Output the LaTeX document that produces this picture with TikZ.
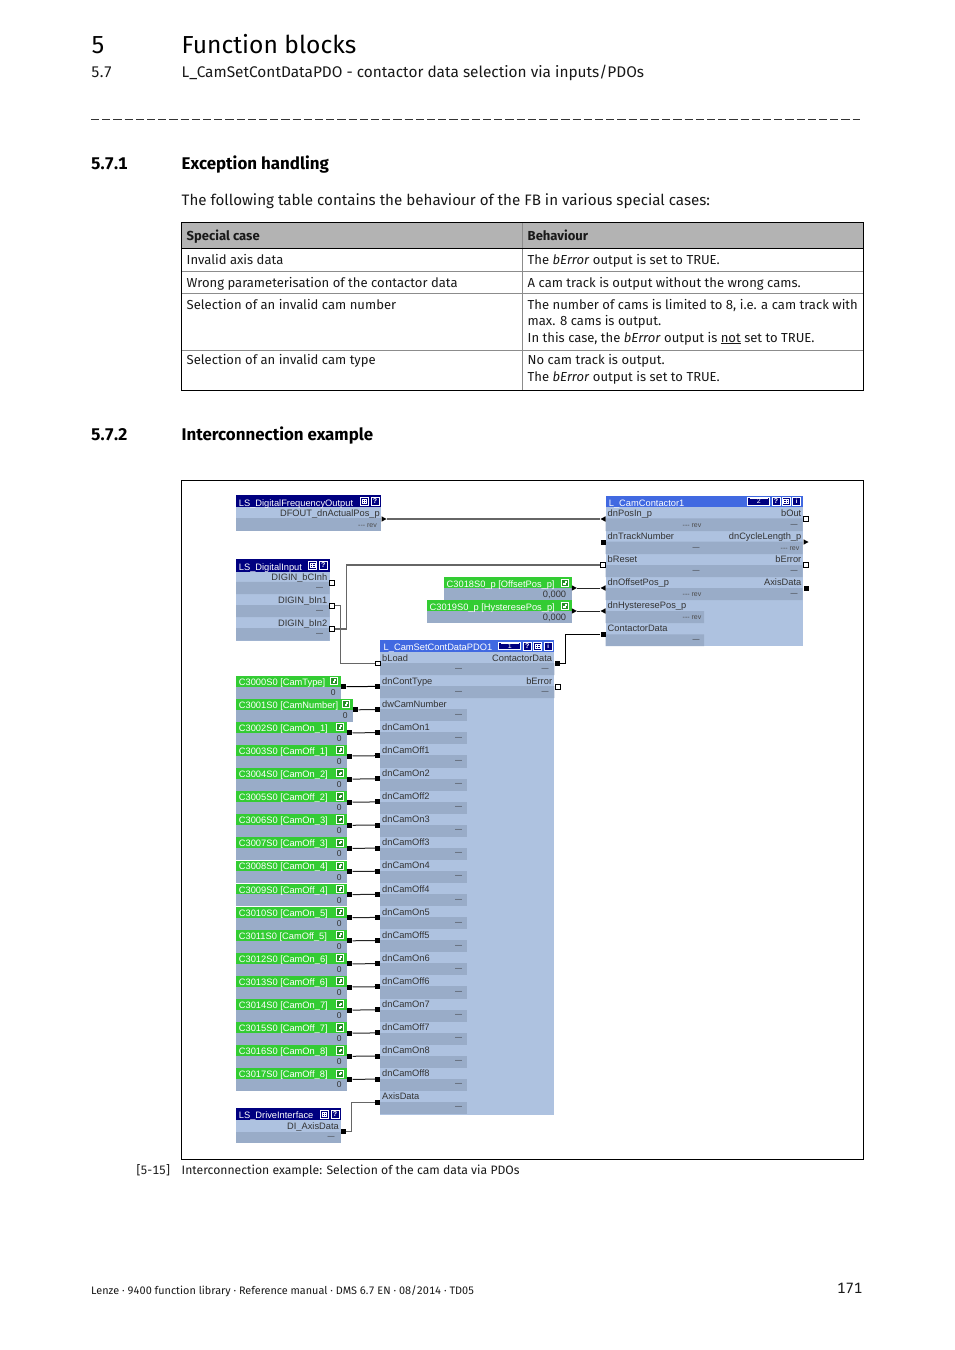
\documentclass[tikz,border=0pt]{standalone}
\usepackage{fontspec}
\setmainfont[Numbers=Monospaced]{Fira Sans}
\newfontfamily\dia{Liberation Sans}
\definecolor{lightrow}{HTML}{AEC2E0}
\definecolor{darkrow}{HTML}{99ACC8}
\definecolor{navyhead}{HTML}{000080}
\definecolor{bluehead}{HTML}{4169E1}
\definecolor{greenhead}{HTML}{33CC33}
\definecolor{tablehead}{HTML}{B3B3B3}
\newcommand\fs[1]{\fontsize{#1}{#1}\selectfont}
\tikzset{
  x=1pt,y=-1pt,
  lft/.style={anchor=base west,inner sep=0pt},
  rgt/.style={anchor=base east,inner sep=0pt},
  doc/.style={lft,font=\fs{13.05},text=black!90},
  docsec/.style={lft,font=\fs{16.9}\bfseries,text=black},
  dl/.style={lft,font=\dia\fs{9.3},text=black!80},
  dr/.style={rgt,font=\dia\fs{9.3},text=black!80},
  hd/.style={lft,font=\dia\fs{9.3},text=white},
  dsh/.style={anchor=center,inner sep=0pt,font=\dia\fs{7},text=black!80},
  rev/.style={anchor=center,inner sep=0pt,font=\dia\fs{7},text=black!70},
  wport/.style={draw=black,fill=white,line width=.8pt,minimum size=4.4pt,inner sep=0pt},
  bport/.style={fill=black,minimum size=5pt,inner sep=0pt},
  tport/.style={minimum size=5pt,inner sep=0pt},
  wthin/.style={draw=black!85,line width=1pt},
  wgrey/.style={draw=black!60,line width=1.2pt},
  wthick/.style={draw=black!60,line width=1.5pt},
  wblack/.style={draw=black,line width=1pt},
  inner/.style={draw=black!45,line width=.7pt},
  outer/.style={draw=black,line width=1pt},
}
% blocks
\newcommand\body[4]{\fill[lightrow] (#1,#2) rectangle (#3,#4);}
\newcommand\head[5]{\fill[#5] (#1,#2) rectangle (#3,#4);}
% icons
\newcommand\icobox[3]{\draw[white,line width=.8pt,fill=#3] (#1-4,#2-4) rectangle (#1+4,#2+4);}
\newcommand\icoq[2]{\icobox{#1}{#2}{navyhead}\node[anchor=center,inner sep=0pt,text=white,font=\dia\bfseries\fs{7}] at (#1,#2) {?};}
\newcommand\icoi[2]{\icobox{#1}{#2}{navyhead}\node[anchor=center,inner sep=0pt,text=white,font=\dia\bfseries\fs{6}] at (#1,#2) {i};}
\newcommand\icog[2]{\icobox{#1}{#2}{navyhead}\draw[white,line width=.5pt] (#1-2.4,#2-2) rectangle (#1+2.4,#2+2.2) (#1-2.4,#2) -- (#1+2.4,#2) (#1,#2-2) -- (#1,#2+2.2);}
\newcommand\icow[3]{\draw[white,line width=.9pt,fill=navyhead] (#1,#2-3.6) rectangle (#1+22,#2+3.6);\fill[white] (#1+2,#2-3.2) rectangle (#1+20,#2-2.2);\node[anchor=center,inner sep=0pt,text=white,font=\dia\fs{7}] at (#1+11,#2) {#3};}
\newcommand\icogreen[2]{\draw[white,line width=.9pt,fill=greenhead!70!black] (#1-3.6,#2-3.6) rectangle (#1+3.6,#2+3.6);\fill[white] (#1-1.6,#2-.4) rectangle (#1+.6,#2+1.8);\fill[white] (#1-.3,#2-1.8) rectangle (#1+1.8,#2+.3);}
\newcommand\triR[3]{\node[tport] (#1) at (#2,#3) {};\fill (#2-2.5,#3-2.7) -- (#2+2.5,#3) -- (#2-2.5,#3+2.7) -- cycle;}
\newcommand\triL[3]{\node[tport] (#1) at (#2,#3) {};\fill (#2+2.5,#3-2.7) -- (#2-2.5,#3) -- (#2+2.5,#3+2.7) -- cycle;}
\begin{document}
\begin{tikzpicture}
\useasboundingbox (0,0) rectangle (954,1350);
\fill[white] (0,0) rectangle (954,1350);
% page head
\node[lft,font=\fs{24.6},text=black] (chapnum) at (91,53) {5};
\node[lft,font=\fs{24.6},text=black] (chaptitle) at (181.5,53) {Function blocks};
\node[doc,font=\fs{15.4}] (secnum) at (91,77) {5.7};
\node[doc,font=\fs{15.4}] (sectitle) at (181.5,77) {L\_CamSetContDataPDO - contactor data selection via inputs/PDOs};
\draw[black!80,line width=.8pt,dash pattern=on 8.2pt off 3pt] (91,119.5) -- (860,119.5);
\node[docsec] (s1n) at (91,169) {5.7.1};
\node[docsec] (s1t) at (181.5,169) {Exception handling};
\node[doc,font=\fs{15.15}] (intro) at (181.5,205) {The following table contains the behaviour of the FB in various special cases:};
% table
\fill[tablehead] (181.5,222.7) rectangle (863.3,248);
\draw[inner] (181.5,271) -- (863.3,271) (181.5,293.7) -- (863.3,293.7) (181.5,350) -- (863.3,350) (522.5,222.7) -- (522.5,390.3);
\draw[outer] (181.5,222.7) rectangle (863.3,390.3) (181.5,248) -- (863.3,248);
\node[doc,font=\fs{13.05}\bfseries] (th1) at (186.5,240) {Special case};
\node[doc,font=\fs{13.05}\bfseries] (th2) at (527.5,240) {Behaviour};
\node[doc] (c11) at (186.5,264) {Invalid axis data};
\node[doc] (c12) at (527.5,264) {The \textit{bError} output is set to TRUE.};
\node[doc] (c21) at (186.5,287) {Wrong parameterisation of the contactor data};
\node[doc] (c22) at (527.5,287) {A cam track is output without the wrong cams.};
\node[doc] (c31) at (186.5,309.5) {Selection of an invalid cam number};
\node[doc] (c32a) at (527.5,309.5) {The number of cams is limited to 8, i.e. a cam track with};
\node[doc] (c32b) at (527.5,325.5) {max. 8 cams is output.};
\node[doc] (c32c) at (527.5,342) {In this case, the \textit{bError} output is \underline{not} set to TRUE.};
\node[doc] (c41) at (186.5,364.5) {Selection of an invalid cam type};
\node[doc] (c42a) at (527.5,364.5) {No cam track is output.};
\node[doc] (c42b) at (527.5,381) {The \textit{bError} output is set to TRUE.};
\node[docsec] (s2n) at (91,440) {5.7.2};
\node[docsec] (s2t) at (181.5,440) {Interconnection example};
% figure frame
\draw[outer] (181.5,480.5) rectangle (863.5,1159.5);
\node[doc,font=\fs{12.2}] (capn) at (136.5,1174) {[5-15]};
\node[doc,font=\fs{12.2}] (capt) at (181.5,1174) {Interconnection example: Selection of the cam data via PDOs};
% footer
\node[doc,font=\fs{10.85}] (foot) at (91,1294) {Lenze · 9400 function library · Reference manual · DMS 6.7 EN · 08/2014 · TD05};
\node[rgt,font=\fs{15},text=black!90] (pageno) at (862.5,1293.5) {171};

% LS_DigitalFrequencyOutput
\body{236}{507.3}{381}{531}\fill[darkrow] (236,518.3) rectangle (381,531);
\head{236}{495.3}{381}{507.3}{navyhead}
\node[hd] (dfh) at (238.7,506.3) {LS\_DigitalFrequencyOutput};
\icog{364.3}{501.3}\icoq{375}{501.3}
\node[dr] (dfl) at (380,516) {DFOUT\_dnActualPos\_p};
\node[rev] (dfr) at (367.5,525.5) {--- rev};
\triR{dfout}{384}{519}

% LS_DigitalInput
\body{236}{571.5}{329.5}{640.7}
\fill[darkrow] (236,581.8) rectangle (329.5,594) (236,605) rectangle (329.5,617) (236,628.2) rectangle (329.5,640.7);
\head{236}{559.3}{329.5}{571.5}{navyhead}
\node[hd] (dih) at (238.7,570.2) {LS\_DigitalInput};
\icog{312.7}{565.3}\icoq{323.3}{565.3}
\node[dr] (dil1) at (327.5,580) {DIGIN\_bCInh};
\node[dr] (dil2) at (327.5,603) {DIGIN\_bIn1};
\node[dr] (dil3) at (327.5,626) {DIGIN\_bIn2};
\node[dsh] (did1) at (319.5,588.5) {—};
\node[dsh] (did2) at (319.5,611.5) {—};
\node[dsh] (did3) at (319.5,634.5) {—};
\node[wport] (bcinh) at (332,582.7) {};
\node[wport] (bin1) at (332,605.7) {};
\node[wport] (bin2) at (332,629) {};

% L_CamSetContDataPDO1
\body{380}{652}{554.3}{1114.5}
\head{380}{640}{554.3}{652}{bluehead}
\node[hd] (pdoh) at (383.5,650.8) {L\_CamSetContDataPDO1};
\icow{498.7}{646.3}{1}\icoq{527.3}{646.3}\icog{537.5}{646.3}\icoi{548.3}{646.3}
\fill[darkrow] (380,663) rectangle (554.3,675.1) (380,686.1) rectangle (554.3,698.2);
\node[wport] (blpad) at (377.7,663.3) {};
\foreach \r/\nm in {0/bLoad,1/dnContType,2/dwCamNumber,3/dnCamOn1,4/dnCamOff1,5/dnCamOn2,6/dnCamOff2,7/dnCamOn3,8/dnCamOff3,9/dnCamOn4,10/dnCamOff4,11/dnCamOn5,12/dnCamOff5,13/dnCamOn6,14/dnCamOff6,15/dnCamOn7,16/dnCamOff7,17/dnCamOn8,18/dnCamOff8,19/AxisData}{
  \pgfmathsetmacro\ry{652+23.1*\r}
  \ifnum\r>1 \fill[darkrow] (380,\ry+11) rectangle (467,\ry+23.1);\fi
  \node[dl] (pl\r) at (382,\ry+9) {\nm};
  \node[dsh] (pd\r) at (458.5,\ry+17) {—};
  \ifnum\r>0 \node[bport] (pi\r) at (377.7,\ry+11.3) {};\fi
}
\node[dr] (pocd) at (552.3,661) {ContactorData};
\node[dr] (poer) at (552.3,684) {bError};
\node[dsh] (pod1) at (545,669) {—};
\node[dsh] (pod2) at (545,692) {—};
\node[bport] (pcd) at (557.7,663.3) {};
\node[wport] (per) at (557.7,686.7) {};

% L_CamContactor1
\body{605.7}{507.3}{802.7}{646}
\fill[darkrow] (605.7,518.3) rectangle (802.7,531) (605.7,541.5) rectangle (802.7,554) (605.7,565) rectangle (802.7,577) (605.7,588) rectangle (802.7,600) (605.7,611) rectangle (704,623) (605.7,634.3) rectangle (704,646);
\head{605.7}{495.7}{802.7}{507.3}{bluehead}
\node[hd] (cch) at (608.7,506.3) {L\_CamContactor1};
\icow{747.7}{501.5}{2}\icoq{776}{501.5}\icog{786}{501.5}\icoi{796.7}{501.5}
\node[dl] (ccl1) at (607.5,516) {dnPosIn\_p};
\node[dl] (ccl2) at (607.5,539) {dnTrackNumber};
\node[dl] (ccl3) at (607.5,562) {bReset};
\node[dl] (ccl4) at (607.5,585) {dnOffsetPos\_p};
\node[dl] (ccl5) at (607.5,608) {dnHysteresePos\_p};
\node[dl] (ccl6) at (607.5,631) {ContactorData};
\node[dr] (ccr1) at (801.5,516) {bOut};
\node[dr] (ccr2) at (801.5,539) {dnCycleLength\_p};
\node[dr] (ccr3) at (801.5,562) {bError};
\node[dr] (ccr4) at (801.5,585) {AxisData};
\node[rev] (ccv1) at (692,525.5) {--- rev};
\node[dsh] (ccd2) at (696,548) {—};
\node[dsh] (ccd3) at (696,571) {—};
\node[rev] (ccv4) at (692,594.5) {--- rev};
\node[rev] (ccv5) at (692,617.5) {--- rev};
\node[dsh] (ccd6) at (696,640.5) {—};
\node[dsh] (ccr1d) at (794,525) {—};
\node[rev] (ccr2d) at (790,548.5) {--- rev};
\node[dsh] (ccr3d) at (794,571) {—};
\node[dsh] (ccr4d) at (794,594) {—};
\triL{cpos}{603}{519}
\node[bport] (ctrk) at (603,542) {};
\node[wport] (crst) at (603,565) {};
\triL{coff}{603}{588}
\triL{chys}{603}{611}
\node[bport] (ccd) at (603,634.5) {};
\node[wport] (cbout) at (806,519) {};
\triR{ccyc}{806}{542}
\node[wport] (cberr) at (806,565) {};
\node[bport] (caxd) at (806,588) {};

% C3018 / C3019
\fill[darkrow] (443.7,588) rectangle (571.7,599.5);
\head{443.7}{576.7}{571.7}{588}{greenhead}
\node[hd] (g18) at (446.5,587) {C3018S0\_p [OffsetPos\_p]};
\icogreen{565}{583}
\node[dr] (g18v) at (566.3,597) {0,000};
\triR{o18}{574.3}{588}
\fill[darkrow] (426.7,611) rectangle (571.7,623);
\head{426.7}{599.5}{571.7}{611}{greenhead}
\node[hd] (g19) at (429.5,610) {C3019S0\_p [HysteresePos\_p]};
\icogreen{565}{606}
\node[dr] (g19v) at (566.3,620) {0,000};
\triR{o19}{574.3}{611}

% parameter blocks
\foreach \k/\nm/\bw in {0/C3000S0 [CamType]/340.7,1/C3001S0 [CamNumber]/352.7,2/C3002S0 [CamOn\_1]/346.7,3/C3003S0 [CamOff\_1]/346.7,4/C3004S0 [CamOn\_2]/346.7,5/C3005S0 [CamOff\_2]/346.7,6/C3006S0 [CamOn\_3]/346.7,7/C3007S0 [CamOff\_3]/346.7,8/C3008S0 [CamOn\_4]/346.7,9/C3009S0 [CamOff\_4]/346.7,10/C3010S0 [CamOn\_5]/346.7,11/C3011S0 [CamOff\_5]/346.7,12/C3012S0 [CamOn\_6]/346.7,13/C3013S0 [CamOff\_6]/346.7,14/C3014S0 [CamOn\_7]/346.7,15/C3015S0 [CamOff\_7]/346.7,16/C3016S0 [CamOn\_8]/346.7,17/C3017S0 [CamOff\_8]/346.7}{
  \pgfmathsetmacro\gy{675.7+23.1*\k}
  \fill[darkrow] (236,\gy+10.6) rectangle (\bw,\gy+22.8);
  \fill[greenhead] (236,\gy) rectangle (\bw,\gy+10.8);
  \node[hd] (gl\k) at (238.7,\gy+9.4) {\nm};
  \icogreen{\bw-6.6}{\gy+5.2}
  \node[rgt,font=\dia\fs{8.5},text=black!80] (gv\k) at (\bw-5,\gy+19.5) {0};
  \node[bport] (go\k) at (\bw+3.1,\gy+11) {};
}

% LS_DriveInterface
\fill[darkrow] (236,1131.7) rectangle (340.7,1143.3);
\fill[lightrow] (236,1120) rectangle (340.7,1131.7);
\head{236}{1108.3}{340.7}{1120}{navyhead}
\node[hd] (dih2) at (238.7,1118.9) {LS\_DriveInterface};
\icog{324.3}{1114.3}\icoq{335}{1114.3}
\node[dr] (dial) at (339,1129.5) {DI\_AxisData};
\node[dsh] (diad) at (331,1137.5) {—};
\node[bport] (dio) at (343.5,1131.7) {};

% connectors
\draw[wthick] (dfout) -- (cpos);
\draw[wgrey] (bin1.east) -- ++(5.6,0) |- (blpad.west);
\draw[wgrey] (bin2.east) -- ++(12,0) |- (crst.west);
\draw[wthin] (o18) -- (coff);
\draw[wthin] (o19) -- (chys);
\draw[wblack] (pcd.east) -- ++(5.5,0) |- (ccd.west);
\draw[wgrey,line width=1pt] (dio.east) -- ++(5.7,0) |- (pi19.west);
\draw[wblack] (go0) -- (pi1);
\foreach \k [evaluate=\k as \r using int(\k+1)] in {1,...,17}{
  \draw[wthin] (go\k) -- (pi\r);
}
\end{tikzpicture}
\end{document}
